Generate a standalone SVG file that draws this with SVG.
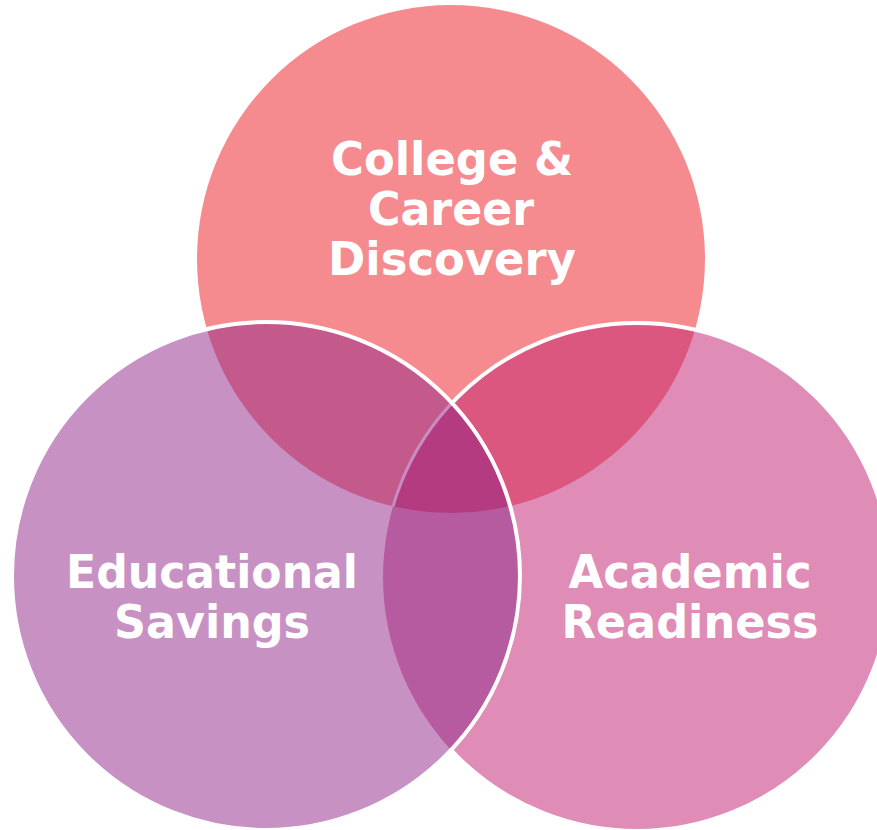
<svg xmlns="http://www.w3.org/2000/svg" width="877" height="830" viewBox="0 0 877 830">
  <defs>
    <clipPath id="clipT"><circle cx="451" cy="259" r="254"/></clipPath>
    <clipPath id="clipL"><circle cx="266" cy="576" r="254"/></clipPath>
    <mask id="outsideL" maskUnits="userSpaceOnUse" x="0" y="0" width="877" height="830">
      <rect x="0" y="0" width="877" height="830" fill="#fff"/>
      <circle cx="266" cy="576" r="254" fill="#000"/>
    </mask>
    <style>
      .lbl { font-family: "DejaVu Sans", Verdana, sans-serif; font-weight: bold; font-size: 47px; fill: #ffffff; text-anchor: middle; }
      .edge { fill: none; stroke: #ffffff; stroke-width: 4; }
    </style>
  </defs>
  <rect x="0" y="0" width="877" height="830" fill="#ffffff"/>

  <g id="node-top">
    <circle cx="451" cy="259" r="254" fill="#F58B8F"/>
  </g>
  <g id="node-left">
    <circle cx="266" cy="576" r="254" fill="#C891C4"/>
  </g>
  <g id="node-right">
    <circle cx="637" cy="577" r="254" fill="#DF8DB6"/>
  </g>

  <g id="overlaps">
    <circle cx="266" cy="576" r="254" fill="#C4598C" clip-path="url(#clipT)"/>
    <circle cx="637" cy="577" r="254" fill="#DB5780" clip-path="url(#clipT)"/>
    <circle cx="637" cy="577" r="254" fill="#B75BA0" clip-path="url(#clipL)"/>
    <g clip-path="url(#clipT)">
      <circle cx="637" cy="577" r="254" fill="#B43B80" clip-path="url(#clipL)"/>
    </g>
  </g>

  <g id="connectors">
    <circle class="edge" cx="637" cy="577" r="254" mask="url(#outsideL)"/>
    <g clip-path="url(#clipT)">
      <circle cx="637" cy="577" r="254" fill="none" stroke="#C98CC1" stroke-width="3" clip-path="url(#clipL)"/>
    </g>
    <circle class="edge" cx="266" cy="576" r="254"/>
  </g>

  <g id="labels">
    <text class="lbl" x="452" y="175" textLength="242" lengthAdjust="spacingAndGlyphs">College &amp;</text>
    <text class="lbl" x="451" y="225" textLength="166" lengthAdjust="spacingAndGlyphs">Career</text>
    <text class="lbl" x="452" y="275" textLength="248" lengthAdjust="spacingAndGlyphs">Discovery</text>
    <text class="lbl" x="212" y="588" textLength="292" lengthAdjust="spacingAndGlyphs">Educational</text>
    <text class="lbl" x="212" y="638" textLength="196" lengthAdjust="spacingAndGlyphs">Savings</text>
    <text class="lbl" x="690" y="588" textLength="243" lengthAdjust="spacingAndGlyphs">Academic</text>
    <text class="lbl" x="690" y="638" textLength="257" lengthAdjust="spacingAndGlyphs">Readiness</text>
  </g>
</svg>
